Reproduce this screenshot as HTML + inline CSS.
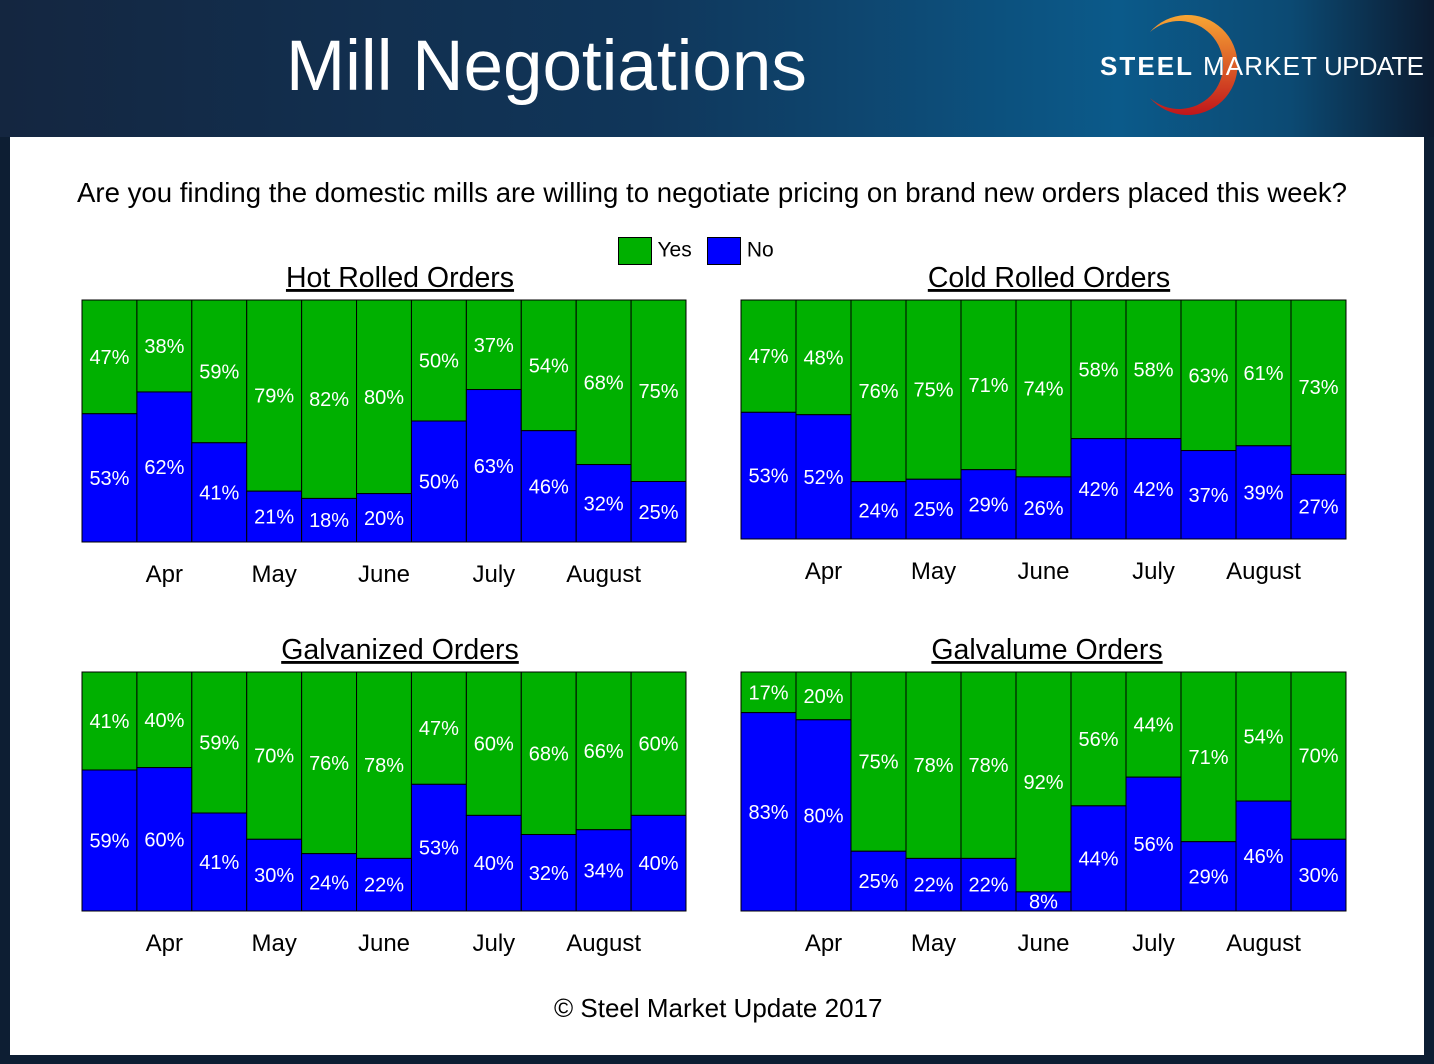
<!DOCTYPE html>
<html><head><meta charset="utf-8"><style>
body{margin:0;width:1434px;height:1064px;overflow:hidden;background:#0d1e33;font-family:"Liberation Sans",sans-serif}
#hdr{position:absolute;left:0;top:0;width:1434px;height:137px;background:linear-gradient(90deg,#142640 0%,#10365a 45%,#0b5a8a 78%,#0c4a73 90%,#0c1b30 100%)}
#panel{position:absolute;left:10px;top:137px;width:1414px;height:918px;background:#fff}
.t{position:absolute;white-space:nowrap}
</style></head><body>
<div id="hdr"></div>
<div class="t" style="left:286px;top:26px;font-size:71px;color:#fff">Mill Negotiations</div>
<svg style="position:absolute;left:1090px;top:10px" width="344" height="120">
<defs><linearGradient id="lg" x1="0" y1="0" x2="0" y2="1"><stop offset="0" stop-color="#f7a634"/><stop offset="1" stop-color="#c0161b"/></linearGradient></defs>
<path d="M60 22 A50 50 0 1 1 60 88 A44 44 0 1 0 60 22 Z" fill="url(#lg)"/>
<text x="10" y="65" font-size="26" font-weight="bold" fill="#fff" font-family="Liberation Sans" textLength="92">STEEL</text>
<text x="113" y="65" font-size="26" fill="#fff" font-family="Liberation Sans" textLength="114">MARKET</text>
<text x="234" y="65" font-size="26" fill="#fff" font-family="Liberation Sans" textLength="100">UPDATE</text>
</svg>
<div id="panel"></div>
<div class="t" style="left:77px;top:177px;font-size:27.6px;color:#000">Are you finding the domestic mills are willing to negotiate pricing on brand new orders placed this week?</div>
<div class="t" style="left:618px;top:237px;font-size:21px"><span style="display:inline-block;width:32px;height:26px;background:#00b000;border:1px solid #000;vertical-align:middle"></span> Yes</div>
<div class="t" style="left:707px;top:237px;font-size:21px"><span style="display:inline-block;width:32px;height:26px;background:#0000ff;border:1px solid #000;vertical-align:middle"></span> No</div>
<div class="t" style="left:554px;top:993px;font-size:26px">© Steel Market Update 2017</div>
<div id="charts"></div>
<script>
const months=["Apr","May","June","July","August"];
const hrYes=[47,38,59,79,82,80,50,37,54,68,75];
const hrNo=[53,62,41,21,18,20,50,63,46,32,25];
const crYes=[47,48,76,75,71,74,58,58,63,61,73];
const crNo=[53,52,24,25,29,26,42,42,37,39,27];
const gvYes=[41,40,59,70,76,78,47,60,68,66,60];
const gvNo=[59,60,41,30,24,22,53,40,32,34,40];
const glYes=[17,20,75,78,78,92,56,44,71,54,70];
const glNo=[83,80,25,22,22,8,44,56,29,46,30];
const charts=[
 {name:"hot-rolled",title:"Hot Rolled Orders",x:82,y:300,w:604,h:242,tc:318,yes:hrYes,no:hrNo},
 {name:"cold-rolled",title:"Cold Rolled Orders",x:741,y:300,w:605,h:239,tc:308,yes:crYes,no:crNo},
 {name:"galvanized",title:"Galvanized Orders",x:82,y:672,w:604,h:239,tc:318,yes:gvYes,no:gvNo},
 {name:"galvalume",title:"Galvalume Orders",x:741,y:672,w:605,h:239,tc:306,yes:glYes,no:glNo}];
const NS="http://www.w3.org/2000/svg";
const root=document.getElementById('charts');
charts.forEach(c=>{
 const svg=document.createElementNS(NS,'svg');
 
 
 svg.setAttribute('width',c.w+40);svg.setAttribute('height',c.h+140);
 svg.style.cssText=`position:absolute;left:${c.x-20}px;top:${c.y-60}px`;
 const ox=20,oy=60,n=c.yes.length,bw=c.w/n;
 const xS=i=>ox+i*bw;
 const yS=p=>oy+c.h*p/100;
 const tt=document.createElementNS(NS,'text');
 
 
 tt.setAttribute('x',ox+c.tc);tt.setAttribute('y',oy-13);tt.setAttribute('text-anchor','middle');
 tt.setAttribute('font-size','28.5');tt.setAttribute('text-decoration','underline');tt.textContent=c.title;
 svg.appendChild(tt);
 for(let i=0;i<n;i++){
  const tot=c.yes[i]+c.no[i];
  const yy=c.yes[i]/tot*100;
  const g=document.createElementNS(NS,'rect');
  
  
  g.setAttribute('x',xS(i));g.setAttribute('y',yS(0));g.setAttribute('width',bw);g.setAttribute('height',yS(yy)-yS(0));
  g.setAttribute('fill','#00b000');g.setAttribute('stroke','#000');g.setAttribute('stroke-width','1');svg.appendChild(g);
  const b=document.createElementNS(NS,'rect');
  
  
  b.setAttribute('x',xS(i));b.setAttribute('y',yS(yy));b.setAttribute('width',bw);b.setAttribute('height',yS(100)-yS(yy));
  b.setAttribute('fill','#0000ff');b.setAttribute('stroke','#000');b.setAttribute('stroke-width','1');svg.appendChild(b);
  [[c.yes[i],(yS(0)+yS(yy))/2],[c.no[i],(yS(yy)+yS(100))/2]].forEach(([v,cy])=>{
   const t=document.createElementNS(NS,'text');
   
   
   t.setAttribute('x',xS(i)+bw/2);t.setAttribute('y',cy+7);t.setAttribute('text-anchor','middle');
   t.setAttribute('font-size','20');t.setAttribute('fill','#fff');t.textContent=v+'%';svg.appendChild(t);
  });
 }
 months.forEach((m,k)=>{
  const t=document.createElementNS(NS,'text');
  
  
  t.setAttribute('x',xS(2*k+1)+bw/2);t.setAttribute('y',yS(100)+32+8);t.setAttribute('text-anchor','middle');
  t.setAttribute('font-size','24');t.textContent=m;svg.appendChild(t);
 });
 root.appendChild(svg);
});
</script>
</body></html>
